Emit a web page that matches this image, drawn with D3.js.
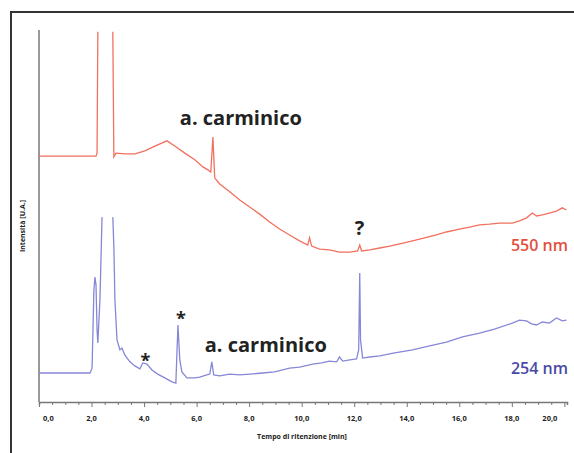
<!DOCTYPE html>
<html>
<head>
<meta charset="utf-8">
<script src="https://cdn.jsdelivr.net/npm/d3@7"></script>
<style>
  body { margin: 0; background: #fff; }
  text { font-family: "Open Sans", sans-serif; }
</style>
</head>
<body>
<div id="chart"></div>
<script>
// retention time (min) / intensity (a.u.); null = off-scale gap
const redTime = [0, 2.17, 2.21, 2.24, null, 2.81, 2.85, 2.93, 3.27, 3.65, 4.03, 4.41, 4.87, 5.17, 5.55, 5.93, 6.24, 6.43, 6.54, 6.62, 6.69, 6.88, 7.26, 7.64, 8.02, 8.4, 8.78, 9.16, 9.54, 9.92, 10.23, 10.3, 10.38, 10.68, 11.06, 11.44, 11.83, 12.13, 12.21, 12.28, 12.59, 12.97, 13.35, 13.73, 14.22, 14.68, 15.13, 15.51, 16.0, 16.39, 16.77, 17.15, 17.53, 18.02, 18.29, 18.56, 18.78, 18.94, 19.16, 19.43, 19.7, 19.92, 20.08]
const redValue = [66.1, 66.1, 66.9, 99.5, null, 99.5, 65.9, 66.9, 66.7, 66.7, 67.5, 68.8, 70.2, 68.8, 66.9, 65.1, 63.2, 62.4, 61.8, 71.2, 60.2, 58.6, 56.5, 54.3, 52.4, 50.5, 48.4, 46.5, 44.9, 43.3, 42.2, 44.1, 41.9, 41.1, 40.9, 40.3, 40.3, 40.6, 42.2, 40.6, 40.9, 41.4, 41.9, 42.5, 43.3, 44.1, 44.9, 45.7, 46.5, 47.0, 47.6, 47.8, 48.1, 48.1, 48.7, 49.5, 50.8, 50.0, 50.3, 50.8, 51.3, 52.2, 51.6]

const blueTime = [0, 1.94, 2.02, 2.09, 2.13, 2.17, 2.21, 2.24, 2.32, 2.4, null, 2.81, 2.85, 2.89, 2.97, 3.08, 3.16, 3.27, 3.46, 3.65, 3.84, 3.95, 4.11, 4.3, 4.52, 4.79, 5.06, 5.21, 5.29, 5.36, 5.44, 5.63, 5.93, 6.12, 6.39, 6.5, 6.58, 6.65, 6.88, 7.26, 7.64, 8.02, 8.52, 8.97, 9.54, 9.92, 10.42, 10.76, 11.06, 11.33, 11.44, 11.56, 11.83, 12.09, 12.17, 12.21, 12.24, 12.32, 12.59, 12.97, 13.54, 14.22, 14.87, 15.51, 16.12, 16.77, 17.34, 18.02, 18.29, 18.56, 18.75, 18.94, 19.16, 19.43, 19.7, 19.92, 20.08]
const blueValue = [7.8, 7.8, 9.1, 30.1, 33.6, 31.5, 19.4, 15.9, 27.4, 49.7, null, 49.7, 41.7, 27.4, 16.7, 14.0, 14.5, 12.6, 10.8, 9.7, 8.9, 10.5, 10.2, 8.6, 7.5, 6.5, 5.4, 5.1, 20.7, 11.3, 8.1, 6.5, 6.5, 6.7, 7.3, 7.5, 10.8, 7.3, 7.0, 7.5, 7.3, 7.5, 7.8, 8.1, 9.1, 9.4, 10.2, 10.5, 11.0, 10.8, 12.1, 11.0, 11.3, 11.6, 14.0, 34.7, 16.7, 11.8, 12.1, 12.4, 13.2, 14.0, 15.1, 16.1, 17.5, 18.5, 19.6, 21.2, 22.0, 21.8, 21.0, 20.7, 21.5, 21.2, 22.6, 21.8, 22.0]

const tickLabels = ["0,0", "2,0", "4,0", "6,0", "8,0", "10,0", "12,0", "14,0", "16,0", "18,0", "20,0"]
const tickValues = [0, 2, 4, 6, 8, 10, 12, 14, 16, 18, 20]

// annotations: [time, intensity, text]
const peakNotes = [[5.36, 74.5, "a. carminico"], [6.31, 13.4, "a. carminico"], [12.2, 44.9, "?"], [4.05, 9.4, "*"], [5.4, 20.7, "*"]]

const W = 574, H = 453
const svg = d3.select("#chart").append("svg").attr("width", W).attr("height", H)

// outer frame (left + top edges only)
svg.append("path")
  .attr("d", `M11,${H} V12 H${W}`)
  .attr("fill", "none")
  .attr("stroke", "#333")
  .attr("stroke-width", 2)

const x = d3.scaleLinear().domain([0, 20.1]).range([39, 567])
const y = d3.scaleLinear().domain([0, 100]).range([402, 30])

// y axis: bare line
svg.append("line")
  .attr("x1", x(0)).attr("x2", x(0))
  .attr("y1", y(100)).attr("y2", y(0))
  .attr("stroke", "#999").attr("stroke-width", 2)

// x axis
const xAxis = svg.append("g").attr("transform", `translate(0,${y(0)})`)
xAxis.call(d3.axisBottom(x).tickValues(d3.range(0, 20.01, 0.5)).tickSize(3).tickFormat(""))
xAxis.select(".domain").attr("stroke", "#777").attr("stroke-width", 1.5)
xAxis.selectAll(".tick line").attr("stroke", "#777")
  .filter(d => Math.abs(d % 2) < 1e-6).attr("y2", 5)

svg.append("g").selectAll("text")
  .data(tickValues)
  .join("text")
  .attr("x", (d, i) => i === 0 ? x(d) + 4 : i === tickValues.length - 1 ? x(d) - 7 : x(d))
  .attr("y", 421)
  .attr("text-anchor", (d, i) => i === 0 ? "start" : i === tickValues.length - 1 ? "end" : "middle")
  .attr("font-size", 7.5)
  .attr("font-weight", 700)
  .attr("fill", "#222")
  .text((d, i) => tickLabels[i])

svg.append("text")
  .attr("x", 302).attr("y", 439)
  .attr("text-anchor", "middle")
  .attr("font-size", 7)
  .attr("font-weight", 700)
  .attr("fill", "#222")
  .text("Tempo di ritenzione [min]")

svg.append("text")
  .attr("transform", "translate(25,226) rotate(-90)")
  .attr("text-anchor", "middle")
  .attr("font-size", 7)
  .attr("font-weight", 700)
  .attr("fill", "#222")
  .text("Intensità [U.A.]")

// traces
const line = d3.line()
  .defined(d => d[0] !== null)
  .x(d => x(d[0]))
  .y(d => y(d[1]))

const redData = redTime.map((t, i) => [t, redValue[i]])
const blueData = blueTime.map((t, i) => [t, blueValue[i]])

svg.append("path")
  .attr("d", line(redData))
  .attr("fill", "none")
  .attr("stroke", "#f2705f")
  .attr("stroke-width", 1.3)

svg.append("path")
  .attr("d", line(blueData))
  .attr("fill", "none")
  .attr("stroke", "#8787d8")
  .attr("stroke-width", 1.3)

// annotations
svg.append("g").selectAll("text")
  .data(peakNotes)
  .join("text")
  .attr("x", d => x(d[0]))
  .attr("y", d => y(d[1]))
  .attr("text-anchor", d => d[2] === "a. carminico" ? "start" : "middle")
  .attr("font-size", d => d[2] === "*" ? 18 : 20)
  .attr("font-weight", 700)
  .attr("fill", "#222")
  .text(d => d[2])

svg.append("text")
  .attr("x", 568).attr("y", 251)
  .attr("text-anchor", "end")
  .attr("font-size", 16)
  .attr("font-weight", 600)
  .attr("fill", "#e2503e")
  .text("550 nm")

svg.append("text")
  .attr("x", 568).attr("y", 374)
  .attr("text-anchor", "end")
  .attr("font-size", 16)
  .attr("font-weight", 600)
  .attr("fill", "#4a4aa6")
  .text("254 nm")
</script>
</body>
</html>
